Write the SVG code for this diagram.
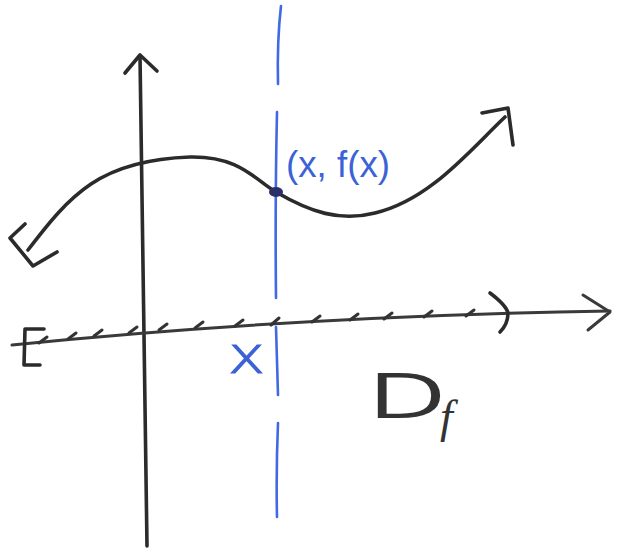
<svg xmlns="http://www.w3.org/2000/svg" width="621" height="551" viewBox="0 0 621 551">
<style>
.ink{fill:none;stroke:#2b2b2b;stroke-width:3.6;stroke-linecap:round;stroke-linejoin:round}
.axis{fill:none;stroke:#3a3a3a;stroke-width:3;stroke-linecap:round;stroke-linejoin:round}
.tick{fill:none;stroke:#333;stroke-width:3;stroke-linecap:round}
.blue{fill:none;stroke:#4169e1;stroke-width:2.6;stroke-linecap:round}
.bt{font-family:'Liberation Sans',Arial,sans-serif;fill:#3b62d6}
.lt{font-family:'DejaVu Sans','Liberation Sans',sans-serif;font-weight:200;fill:#3b62d6;stroke:#3b62d6;stroke-width:1.2}
.dt{font-family:'DejaVu Sans','Liberation Sans',sans-serif;font-weight:200;fill:#333;stroke:#333;stroke-width:2}
.ft{font-family:'Liberation Serif','Times New Roman',serif;font-style:italic;fill:#333}
</style>
<rect width="621" height="551" fill="#ffffff"/>
<g id="connectors">
  <g id="y-axis">
    <path class="ink" d="M140,56 C142,200 145,400 147,546"/>
    <path class="ink" d="M125,73 L140,55 L157,71"/>
  </g>
  <g id="x-axis">
    <path class="axis" d="M12,345 Q300,316 610,311"/>
    <path class="axis" d="M583,295 L610,312 L588,330"/>
  </g>
  <g id="domain-bracket">
    <path class="ink" d="M44,329 L25,329 L24,365 L40,365"/>
    <path class="ink" d="M490,293 Q506,305 508,313 Q508,324 500,332"/>
  </g>
  <g id="ticks">
    <path class="tick" d="M39,343 L47,337"/>
    <path class="tick" d="M68,339 L76,333"/>
    <path class="tick" d="M94,336 L102,330"/>
    <path class="tick" d="M129,333 L137,327"/>
    <path class="tick" d="M159,330 L167,324"/>
    <path class="tick" d="M195,328 L203,322"/>
    <path class="tick" d="M235,326 L243,320"/>
    <path class="tick" d="M271,325 L279,318"/>
    <path class="tick" d="M312,322 L320,316"/>
    <path class="tick" d="M350,320 L358,314"/>
    <path class="tick" d="M384,319 L392,313"/>
    <path class="tick" d="M424,317 L432,311"/>
    <path class="tick" d="M466,316 L474,310"/>
  </g>
  <g id="vertical-line">
    <path class="blue" d="M281,6 Q277,40 278,84"/>
    <path class="blue" d="M277,112 Q275,200 276,298"/>
    <path class="blue" d="M276,327 Q277,360 278,395"/>
    <path class="blue" d="M278,423 Q276,470 277,517"/>
  </g>
  <g id="curve">
    <path class="ink" d="M28,250 C70,195 100,160 190,157 C240,156 255,180 276,192 C310,212 340,222 375,213 C430,200 470,150 505,117"/>
    <path class="ink" d="M25,224 L10,238 L33,266 L57,252"/>
    <path class="ink" d="M482,113 L508,108 L513,145"/>
  </g>
</g>
<g id="point">
  <ellipse cx="276" cy="192" rx="7" ry="5" fill="#2a2f6a"/>
</g>
<g id="label-point">
  <text class="bt" x="286" y="177" font-size="36" textLength="104" lengthAdjust="spacingAndGlyphs">(x, f(x)</text>
</g>
<g id="label-x">
  <text class="lt" x="228" y="373" font-size="52" textLength="37" lengthAdjust="spacingAndGlyphs">x</text>
</g>
<g id="label-domain">
  <text class="dt" x="367" y="417" font-size="58" textLength="80" lengthAdjust="spacingAndGlyphs">D</text>
  <text class="ft" x="440" y="432" font-size="46">f</text>
</g>
</svg>
